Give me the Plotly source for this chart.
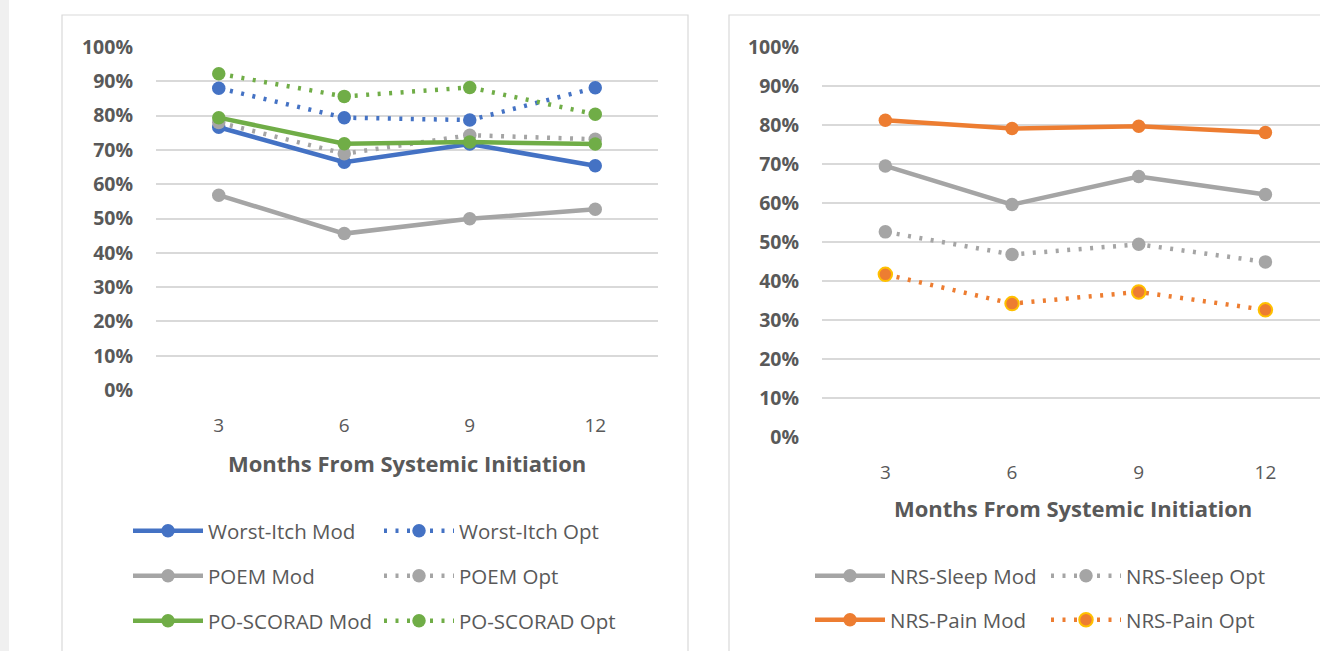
import plotly.graph_objects as go

W, H = 1320, 651
def X(px): return px / W
def Y(py): return 1 - py / H

months = [3, 6, 9, 12]
tick_pcts = [0, 0.1, 0.2, 0.3, 0.4, 0.5, 0.6, 0.7, 0.8, 0.9, 1.0]

itch_mod = [0.766, 0.664, 0.717, 0.654]
itch_opt = [0.880, 0.794, 0.787, 0.881]
poem_mod = [0.568, 0.456, 0.499, 0.527]
poem_opt = [0.780, 0.689, 0.743, 0.731]
scorad_mod = [0.794, 0.718, 0.723, 0.717]
scorad_opt = [0.922, 0.856, 0.882, 0.804]

sleep_mod = [0.695, 0.596, 0.668, 0.622]
sleep_opt = [0.526, 0.468, 0.494, 0.449]
pain_mod = [0.812, 0.791, 0.797, 0.781]
pain_opt = [0.417, 0.342, 0.372, 0.326]

BLUE, GRAY, GREEN, ORANGE, GOLD = "#4472C4", "#A5A5A5", "#70AD47", "#ED7D31", "#FFC000"
TXT = "#595959"
GRID = "#D9D9D9"
FONT = "Open Sans"

fig = go.Figure()

def add(name, y, color, dotted, xa, ya, legend, border=None):
    fig.add_trace(go.Scatter(
        x=months, y=y, name=name, mode="lines+markers",
        xaxis=xa, yaxis=ya, legend=legend, legendgroup=name,
        line=dict(color=color, width=4.5, dash="3px,8.5px" if dotted else "solid"),
        marker=dict(size=13.5, color=color,
                    line=dict(color=border if border else color, width=2 if border else 0)),
        hoverinfo="skip",
    ))

add("Worst-Itch Mod", itch_mod, BLUE, False, "x", "y", "legend")
add("Worst-Itch Opt", itch_opt, BLUE, True, "x", "y", "legend2")
add("POEM Mod", poem_mod, GRAY, False, "x", "y", "legend")
add("POEM Opt", poem_opt, GRAY, True, "x", "y", "legend2")
add("PO-SCORAD Mod", scorad_mod, GREEN, False, "x", "y", "legend")
add("PO-SCORAD Opt", scorad_opt, GREEN, True, "x", "y", "legend2")

add("NRS-Sleep Mod", sleep_mod, GRAY, False, "x2", "y2", "legend3")
add("NRS-Sleep Opt", sleep_opt, GRAY, True, "x2", "y2", "legend4")
add("NRS-Pain Mod", pain_mod, ORANGE, False, "x2", "y2", "legend3")
add("NRS-Pain Opt", pain_opt, ORANGE, True, "x2", "y2", "legend4", border=GOLD)

xcommon = dict(tickvals=months, ticktext=[str(m) for m in months], showgrid=False,
               zeroline=False, showline=False, ticks="", ticklabelstandoff=22,
               tickfont=dict(family=FONT, size=19, color=TXT), fixedrange=True)
ycommon = dict(range=[0, 1], tickvals=tick_pcts, tickformat=".0%", showgrid=True,
               gridcolor=GRID, gridwidth=1.5, zeroline=False, showline=False, ticks="",
               ticklabelstandoff=22, tickfont=dict(family=FONT, size=19.5, color=TXT, weight="bold"),
               fixedrange=True)

LEG_FS = 20.5
leg = dict(bgcolor="rgba(0,0,0,0)", borderwidth=0, orientation="v", xanchor="left",
           yanchor="top", itemwidth=70,
           font=dict(family=FONT, size=LEG_FS, color=TXT), itemclick=False, itemdoubleclick=False)

fig.update_layout(
    width=W, height=H, margin=dict(l=0, r=0, t=0, b=0, autoexpand=False),
    paper_bgcolor="white", plot_bgcolor="white",
    xaxis=dict(domain=[X(156), X(658)], range=[1.5, 13.5], anchor="y", **xcommon),
    yaxis=dict(domain=[Y(390), Y(47)], anchor="x", **ycommon),
    xaxis2=dict(domain=[X(822), 1.0], range=[1.5, 1.5 + 498 / 42.23], anchor="y2", **xcommon),
    yaxis2=dict(domain=[Y(437), Y(47)], anchor="x2", **ycommon),
    legend=dict(x=X(128), y=Y(511), tracegroupgap=15.3, **leg),
    legend2=dict(x=X(379), y=Y(511), tracegroupgap=15.3, **leg),
    legend3=dict(x=X(810), y=Y(556), tracegroupgap=14.3, **leg),
    legend4=dict(x=X(1046), y=Y(556), tracegroupgap=14.3, **leg),
    showlegend=True,
)

fig.add_annotation(text="<b>Months From Systemic Initiation</b>", x=X(407), y=Y(463),
                   xref="paper", yref="paper", showarrow=False, xanchor="center", yanchor="middle",
                   font=dict(family=FONT, size=22, color=TXT))
fig.add_annotation(text="<b>Months From Systemic Initiation</b>", x=X(1073), y=Y(508),
                   xref="paper", yref="paper", showarrow=False, xanchor="center", yanchor="middle",
                   font=dict(family=FONT, size=22, color=TXT))

# page background and chart frames
fig.add_shape(type="rect", xref="paper", yref="paper", x0=0, x1=X(9), y0=0, y1=1,
              fillcolor="#F0F0F0", line_width=0, layer="below")
fig.add_shape(type="rect", xref="paper", yref="paper", x0=X(62), x1=X(688), y0=Y(660), y1=Y(15),
              fillcolor="rgba(0,0,0,0)", line=dict(color=GRID, width=1.2), layer="below")
fig.add_shape(type="rect", xref="paper", yref="paper", x0=X(729), x1=X(1330), y0=Y(660), y1=Y(15),
              fillcolor="rgba(0,0,0,0)", line=dict(color=GRID, width=1.2), layer="below")

fig.write_html("out.html", config={"displayModeBar": False},
               post_script="document.body.style.margin='0';document.body.style.overflow='hidden';")
